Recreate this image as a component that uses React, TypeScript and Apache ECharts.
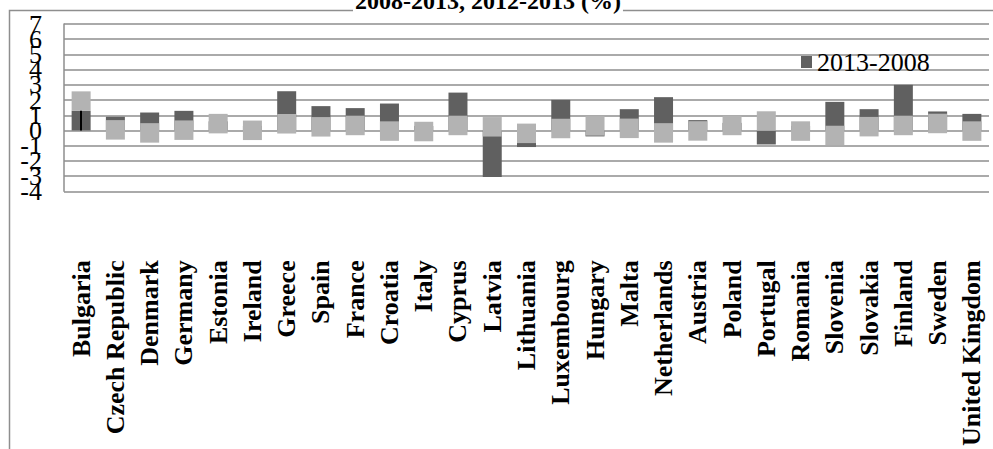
import React, { useEffect, useRef } from "react";
import * as echarts from "echarts";

// Countries along the category axis
const countries = [
  "Bulgaria", "Czech Republic", "Denmark", "Germany", "Estonia", "Ireland",
  "Greece", "Spain", "France", "Croatia", "Italy", "Cyprus", "Latvia",
  "Lithuania", "Luxembourg", "Hungary", "Malta", "Netherlands", "Austria",
  "Poland", "Portugal", "Romania", "Slovenia", "Slovakia", "Finland",
  "Sweden", "United Kingdom",
];

// Change 2013 vs 2008 (%), drawn as dark columns
const change2013vs2008 = [
  1.29, 0.9, 1.18, 1.29, 0.6, 0.3, 2.58, 1.6, 1.47, 1.77, 0.3, 2.49, -3.06,
  -1.09, 2.01, -0.39, 1.4, 2.19, 0.68, 0.5, -0.92, 0.3, 1.88, 1.4, 3.0,
  1.25, 1.09,
];

// Change 2013 vs 2012 (%), drawn as light square markers
const change2013vs2012 = [
  1.93, 0.04, -0.16, 0.02, 0.45, 0.01, 0.44, 0.24, 0.33, -0.04, -0.07, 0.33,
  0.24, -0.19, 0.13, 0.3, 0.14, -0.16, -0.03, 0.33, 0.62, -0.04, -0.33, 0.25,
  0.33, 0.46, -0.04,
];

// Value axis range and step
const yMin = -4;
const yMax = 7;
const yStep = 1;

const seriesNames = ["2013-2008", "2013-2012"];
const titleText = "2008-2013, 2012-2013 (%)";
const highlighted = "Bulgaria";

const SERIF = "Liberation Serif";
const GRID_COLOR = "#8e8e8e";

// The tick labels are taller than the tick spacing, so even and odd ticks are
// labelled by two stacked axes to keep every one of them visible.
const tickLabel = (parity: number) => (v: number) =>
  Math.abs(Math.round(v)) % 2 === parity ? String(v) : "";

export default function App() {
  const ref = useRef<HTMLDivElement>(null);

  useEffect(() => {
    if (!ref.current) return;
    const chart = echarts.init(ref.current, null, { renderer: "svg" });
    const hIdx = countries.indexOf(highlighted);

    const labelStyle = {
      margin: 22,
      fontFamily: SERIF,
      fontSize: 26,
      color: "#000",
      hideOverlap: false,
    };

    chart.setOption({
      animation: false,
      backgroundColor: "#ffffff",
      textStyle: { fontFamily: SERIF },
      graphic: [
        {
          type: "rect",
          z: 0,
          shape: { x: 9.5, y: 10.5, width: 1000, height: 500 },
          style: { fill: "none", stroke: GRID_COLOR, lineWidth: 1.5 },
        },
        {
          type: "text",
          z: 10,
          x: 353,
          y: 13,
          style: {
            text: titleText,
            fontFamily: SERIF,
            fontWeight: "bold",
            fontSize: 24,
            fill: "#000",
            verticalAlign: "bottom",
            backgroundColor: "#fff",
            padding: [0, 2],
          },
        },
      ],
      legend: {
        data: [seriesNames[0]],
        left: 796,
        top: 44,
        itemWidth: 11,
        itemHeight: 12,
        itemGap: 5,
        icon: "rect",
        textStyle: { fontFamily: SERIF, fontSize: 26, color: "#000" },
      },
      grid: { left: 64, top: 24, width: 925, height: 167.3 },
      xAxis: {
        type: "category",
        data: countries,
        axisLine: { show: false },
        axisTick: { show: false },
        splitLine: { show: false },
        axisLabel: {
          interval: 0,
          rotate: 90,
          margin: 69,
          fontFamily: SERIF,
          fontWeight: "bold",
          fontSize: 26,
          color: "#000",
          hideOverlap: false,
        },
      },
      yAxis: [
        {
          type: "value",
          position: "left",
          min: yMin,
          max: yMax,
          interval: yStep,
          axisLine: { show: true, lineStyle: { color: GRID_COLOR, width: 1.5 } },
          axisTick: { show: false },
          splitLine: { show: true, lineStyle: { color: GRID_COLOR, width: 1.5 } },
          axisLabel: { ...labelStyle, formatter: tickLabel(0) },
        },
        {
          type: "value",
          position: "left",
          offset: 0,
          min: yMin,
          max: yMax,
          interval: yStep,
          axisLine: { show: false },
          axisTick: { show: false },
          splitLine: { show: false },
          axisLabel: { ...labelStyle, formatter: tickLabel(1) },
        },
      ],
      series: [
        {
          name: seriesNames[0],
          type: "bar",
          yAxisIndex: 0,
          data: change2013vs2008,
          barWidth: 19,
          z: 2,
          itemStyle: { color: "#606060" },
          markLine: {
            silent: true,
            symbol: ["none", "none"],
            label: { show: false },
            lineStyle: { color: "#000", width: 2, type: "solid" },
            data: [
              [
                { coord: [hIdx, 0] },
                { coord: [hIdx, change2013vs2008[hIdx]] },
              ],
            ],
          },
        },
        {
          name: seriesNames[1],
          type: "scatter",
          yAxisIndex: 0,
          data: change2013vs2012,
          symbol: "rect",
          symbolSize: [19, 19.5],
          z: 3,
          itemStyle: { color: "#b3b3b3", opacity: 1 },
        },
      ],
    });

    return () => chart.dispose();
  }, []);

  return (
    <div
      ref={ref}
      style={{ position: "absolute", left: 0, top: 0, width: 993, height: 449 }}
    />
  );
}
